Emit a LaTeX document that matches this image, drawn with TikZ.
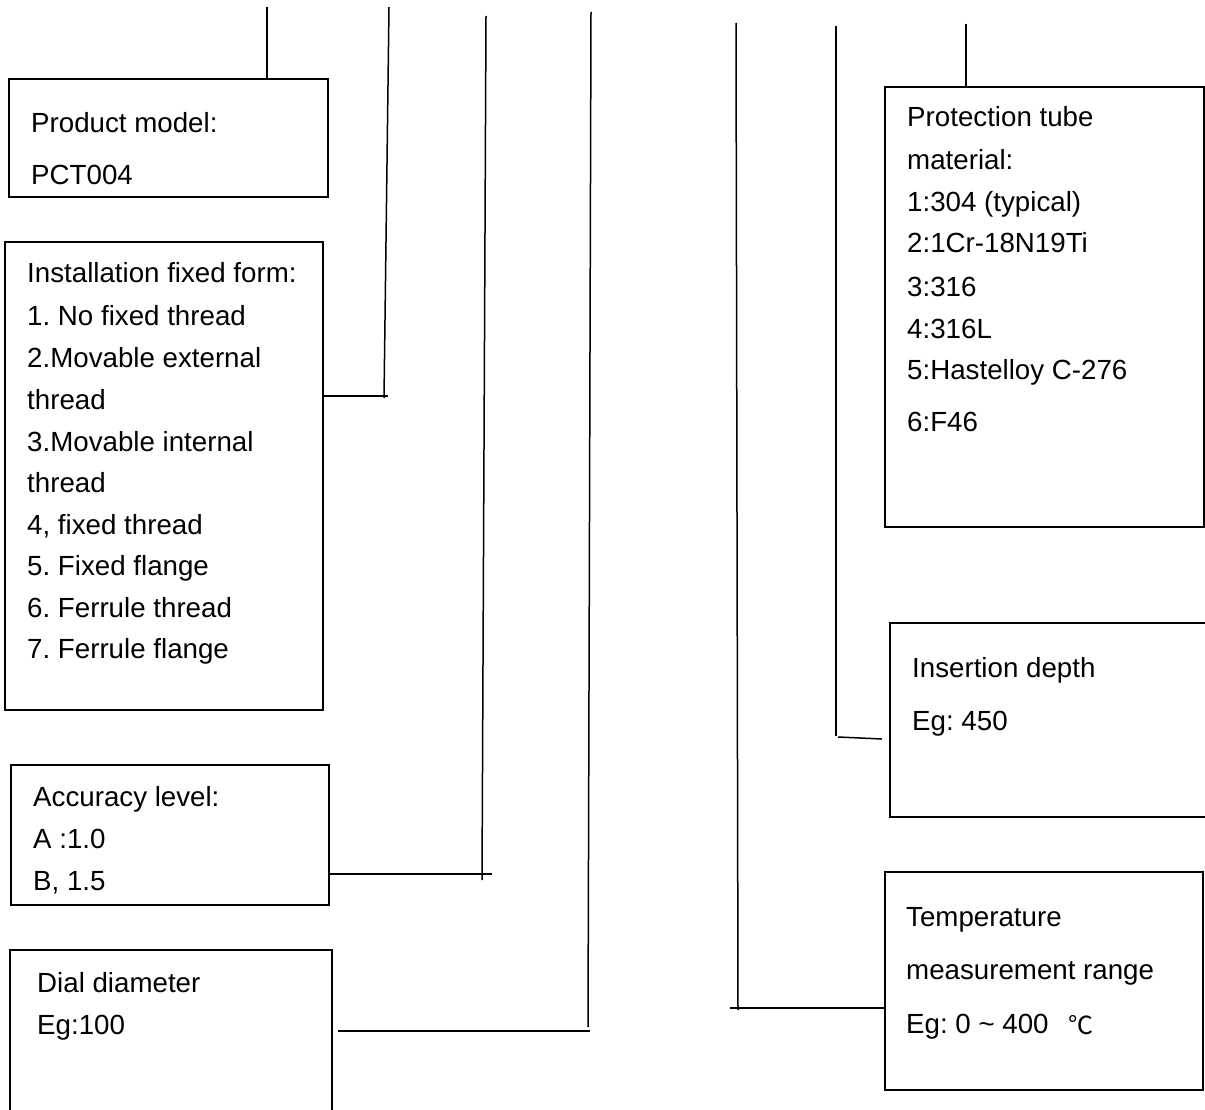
\documentclass[tikz,border=0pt]{standalone}
\usepackage{fontspec}
\setmainfont{Liberation Sans}
\newfontfamily\cjk{Noto Sans CJK SC}
\frenchspacing
\begin{document}
\begin{tikzpicture}[x=1pt,y=-1pt,
  box/.style={draw, line width=1.6pt, rectangle, inner sep=0pt, outer sep=0pt, anchor=north west},
  txt/.style={anchor=base west, inner sep=0pt, font=\frenchspacing\fontsize{27.7}{32}\selectfont},
  ln/.style={line width=1.5pt}]
\useasboundingbox (0,0) rectangle (1205,1110);
\clip (0,0) rectangle (1205,1110);
\fill[white] (0,0) rectangle (1205,1110);

% boxes
\node[box, minimum width=319pt, minimum height=118pt] (pm) at (9,79) {};
\node[box, minimum width=318pt, minimum height=468pt] (inst) at (5,242) {};
\node[box, minimum width=318pt, minimum height=140pt] (acc) at (11,765) {};
\node[box, minimum width=322pt, minimum height=200pt] (dial) at (10,950) {};
\node[box, minimum width=319pt, minimum height=440pt] (prot) at (885,87) {};
\node[box, minimum width=340pt, minimum height=194pt] (ins) at (890,623) {};
\node[box, minimum width=318pt, minimum height=218pt] (temp) at (885,872) {};

% texts
\node[txt] (t11) at (31,133) {Product model:};
\node[txt] (t12) at (31,185) {PCT004};

\node[txt] (t21) at (27,283) {Installation fixed form:};
\node[txt] (t22) at (27,325) {1. No fixed thread};
\node[txt] (t23) at (27,367) {2.Movable external};
\node[txt] (t24) at (27,409) {thread};
\node[txt] (t25) at (27,451) {3.Movable internal};
\node[txt] (t26) at (27,492) {thread};
\node[txt] (t27) at (27,534) {4, fixed thread};
\node[txt] (t28) at (27,575) {5. Fixed flange};
\node[txt] (t29) at (27,617) {6. Ferrule thread};
\node[txt] (t210) at (27,658) {7. Ferrule flange};

\node[txt] (t31) at (33,806) {Accuracy level:};
\node[txt] (t32) at (33,848) {A :1.0};
\node[txt] (t33) at (33,890) {B, 1.5};

\node[txt] (t41) at (37,992) {Dial diameter};
\node[txt] (t42) at (37,1034) {Eg:100};

\node[txt] (t51) at (907,127) {Protection tube};
\node[txt] (t52) at (907,170) {material:};
\node[txt] (t53) at (907,212) {1:304 (typical)};
\node[txt] (t54) at (907,253) {2:1Cr-18N19Ti};
\node[txt] (t55) at (907,296) {3:316};
\node[txt] (t56) at (907,338) {4:316L};
\node[txt] (t57) at (907,379) {5:Hastelloy C-276};
\node[txt] (t58) at (907,431) {6:F46};

\node[txt] (t61) at (912,677) {Insertion depth};
\node[txt] (t62) at (912,730) {Eg: 450};

\node[txt] (t71) at (906,926) {Temperature};
\node[txt] (t72) at (906,979) {measurement range};
\node[txt] (t73) at (906,1033) {Eg: 0 \textasciitilde{} 400};
\node[anchor=base west, inner sep=0pt, font=\cjk\fontsize{25}{28}\selectfont] (deg) at (1068,1034) {℃};

% connectors
\coordinate (a1) at (267,7);
\draw[ln] (a1) -- (a1 |- pm.north);

\coordinate (a2) at (389,7);
\coordinate (b2) at (384,398);
\coordinate (h2) at (388,396);
\draw[ln] (a2) -- (b2);
\draw[ln] (inst.east |- h2) -- (h2);

\coordinate (a3) at (486,16);
\coordinate (b3) at (482,880);
\coordinate (h3) at (492,874);
\draw[ln] (a3) -- (b3);
\draw[ln] (acc.east |- h3) -- (h3);

\coordinate (a4) at (591,12);
\coordinate (b4) at (588,1027);
\coordinate (g4) at (338,1031);
\coordinate (h4) at (590,1031);
\draw[ln] (a4) -- (b4);
\draw[ln] (g4) -- (h4);

\coordinate (a5) at (736,23);
\coordinate (b5) at (738,1010);
\coordinate (g5) at (730,1008);
\draw[ln] (a5) -- (b5);
\draw[ln] (g5) -- (g5 -| temp.west);

\coordinate (a6) at (836,26);
\coordinate (b6) at (836,736);
\coordinate (g6) at (838,737);
\coordinate (h6) at (882,739);
\draw[ln] (a6) -- (b6);
\draw[ln] (g6) -- (h6);

\coordinate (a7) at (966,24);
\draw[ln] (a7) -- (a7 |- prot.north);
\end{tikzpicture}
\end{document}
